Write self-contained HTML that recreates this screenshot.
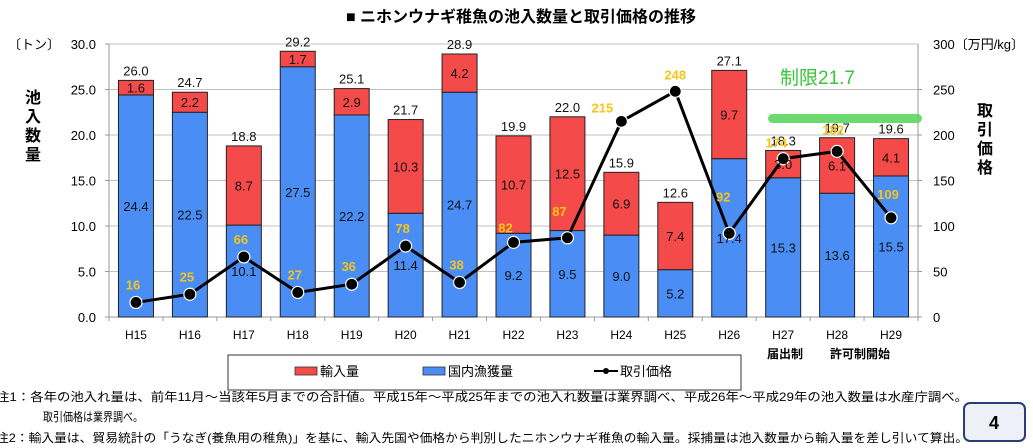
<!DOCTYPE html>
<html><head><meta charset="utf-8"><style>
body{margin:0;background:#fff;}
svg{display:block;font-family:"Liberation Sans","Noto Sans CJK JP",sans-serif;}
</style></head><body>
<svg id="chart" width="1033" height="448" viewBox="0 0 1033 448">
<text x="521" y="22" text-anchor="middle" font-size="16" font-weight="bold" fill="#000">■ ニホンウナギ稚魚の池入数量と取引価格の推移</text>
<text x="8" y="49" font-size="13">〔トン〕</text>
<text x="933" y="49" font-size="13">300〔万円/kg〕</text>
<g font-size="16" font-weight="bold"><text x="33" y="103" text-anchor="middle">池</text><text x="33" y="122" text-anchor="middle">入</text><text x="33" y="141" text-anchor="middle">数</text><text x="33" y="160" text-anchor="middle">量</text></g>
<g font-size="16" font-weight="bold"><text x="985" y="116" text-anchor="middle">取</text><text x="985" y="135" text-anchor="middle">引</text><text x="985" y="154" text-anchor="middle">価</text><text x="985" y="173" text-anchor="middle">格</text></g>
<g id="grid"></g><g id="bars"></g><g id="line"></g><g id="labels"></g>
<rect x="768" y="114" width="154" height="9" rx="4.5" fill="#5cd65c" opacity="0.9"/>
<text x="780" y="84" font-size="19" fill="#3cc43c">制限21.7</text>
<text x="785" y="358" text-anchor="middle" font-size="12" font-weight="bold">届出制</text>
<text x="860" y="358" text-anchor="middle" font-size="12" font-weight="bold">許可制開始</text>
<g>
<rect x="228" y="355" width="513" height="35" fill="#fff" stroke="#333" stroke-width="1"/>
<rect x="295" y="367" width="22" height="8" fill="#f54a4a" stroke="#333" stroke-width="0.8"/>
<text x="320" y="376" font-size="13">輸入量</text>
<rect x="423" y="367" width="22" height="8" fill="#4a8ef5" stroke="#333" stroke-width="0.8"/>
<text x="448" y="376" font-size="13">国内漁獲量</text>
<line x1="594" y1="371" x2="618" y2="371" stroke="#000" stroke-width="2"/><circle cx="606" cy="371" r="3" fill="#000"/>
<text x="620" y="376" font-size="13">取引価格</text>
</g>
<g font-size="12">
<text x="-4" y="401" textLength="972" lengthAdjust="spacingAndGlyphs">注1：各年の池入れ量は、前年11月～当該年5月までの合計値。平成15年～平成25年までの池入れ数量は業界調べ、平成26年～平成29年の池入数量は水産庁調べ。</text>
<text x="43" y="421" textLength="100" lengthAdjust="spacingAndGlyphs">取引価格は業界調べ。</text>
<text x="-4" y="442" textLength="972" lengthAdjust="spacingAndGlyphs">注2：輸入量は、貿易統計の「うなぎ(養魚用の稚魚)」を基に、輸入先国や価格から判別したニホンウナギ稚魚の輸入量。採捕量は池入数量から輸入量を差し引いて算出。</text>
</g>
<g>
<rect x="964" y="403" width="61" height="38" rx="6" fill="#eef0f8" stroke="#2a3d7a" stroke-width="2"/>
<text x="994" y="429" text-anchor="middle" font-size="18" font-weight="bold">4</text>
</g>
</svg>
<script>
const categories=["H15","H16","H17","H18","H19","H20","H21","H22","H23","H24","H25","H26","H27","H28","H29"];
const domestic=[24.4,22.5,10.1,27.5,22.2,11.4,24.7,9.2,9.5,9.0,5.2,17.4,15.3,13.6,15.5];
const imports=[1.6,2.2,8.7,1.7,2.9,10.3,4.2,10.7,12.5,6.9,7.4,9.7,3.0,6.1,4.1];
const totals=[26.0,24.7,18.8,29.2,25.1,21.7,28.9,19.9,22.0,15.9,12.6,27.1,18.3,19.7,19.6];
const prices=[16,25,66,27,36,78,38,82,87,215,248,92,174,182,109];
const leftTicks=["0.0","5.0","10.0","15.0","20.0","25.0","30.0"];
const rightTicks=["0","50","100","150","200","250"];
const NS="http://www.w3.org/2000/svg";
const X0=109,X1=918,Y0=317,Y1=44;
// label offset styling (pixels, not data)
const lblDx=[-3,-3,-3,-3,-3,-3,-3,-8,-8,-19,0,-6,-7,-4,-3];
const lblDy=[-13,-13,-13,-13,-13,-13,-13,-10,-22,-9,-12,-32,-11,-17,-19];
const NSX=null;
const band=(X1-X0)/categories.length;
const xc=i=>X0+band*(i+0.5);
const yL=v=>Y0-(v/30)*(Y0-Y1);
const yR=v=>Y0-(v/300)*(Y0-Y1);
function mk(tag,attrs,parent,text){const e=document.createElementNS(NS,tag);for(const k in attrs)e.setAttribute(k,attrs[k]);if(text!=null)e.textContent=text;document.getElementById(parent).appendChild(e);return e;}
leftTicks.forEach((t,i)=>{const v=parseFloat(t);const y=yL(v);
 const g=mk('line',{x1:X0,x2:X1,y1:y,y2:y,stroke:i==0?'#999':'#c0c0c0','stroke-width':1},'grid');
 
 const l=mk('text',{x:X0-13,y:y+5,'text-anchor':'end','font-size':13},'grid',t);
 
 mk('line',{x1:X0-4,x2:X0,y1:y,y2:y,stroke:'#999'},'grid');});
rightTicks.forEach(t=>{const v=parseFloat(t);const y=yR(v);
 const l=mk('text',{x:X1+15,y:y+5,'font-size':13},'grid',t);
 
 mk('line',{x1:X1,x2:X1+4,y1:y,y2:y,stroke:'#999'},'grid');});
mk('line',{x1:X0,x2:X0,y1:Y1,y2:Y0+4,stroke:'#999'},'grid');
mk('line',{x1:X1,x2:X1,y1:Y1,y2:Y0+4,stroke:'#999'},'grid');
categories.forEach((c,i)=>{
 mk('line',{x1:X0+band*(i+1),x2:X0+band*(i+1),y1:Y0,y2:Y0+4,stroke:'#999'},'grid');
 const t=mk('text',{x:xc(i),y:Y0+22,'text-anchor':'middle','font-size':12},'grid',c);
 
 const bw=35,bx=xc(i)-bw/2;
 const b=mk('rect',{x:bx,y:yL(domestic[i]),width:bw,height:Y0-yL(domestic[i]),fill:'#4a8ef5',stroke:'#222','stroke-width':1},'bars');
 
 const top=domestic[i]+imports[i];
 const r=mk('rect',{x:bx,y:yL(top),width:bw,height:yL(domestic[i])-yL(top),fill:'#f54a4a',stroke:'#222','stroke-width':1},'bars');
 
 const dl=mk('text',{x:xc(i),y:(yL(domestic[i])+Y0)/2+5,'text-anchor':'middle','font-size':13,fill:'#111'},'labels',domestic[i].toFixed(1));
 
 const il=mk('text',{x:xc(i),y:(yL(top)+yL(domestic[i]))/2+5,'text-anchor':'middle','font-size':13,fill:'#111'},'labels',imports[i].toFixed(1));
 
 const tl=mk('text',{x:xc(i),y:yL(top)-5,'text-anchor':'middle','font-size':13,fill:'#111'},'labels',totals[i].toFixed(1));
 
});
const pts=prices.map((p,i)=>xc(i)+','+yR(p)).join(' ');
const pl=mk('polyline',{points:pts,fill:'none',stroke:'#000','stroke-width':3},'line');

prices.forEach((p,i)=>{
 const c=mk('circle',{cx:xc(i),cy:yR(p),r:6,fill:'#000',stroke:'#fff','stroke-width':1.2},'line');
 
 const t=mk('text',{x:xc(i)+lblDx[i],y:yR(p)+lblDy[i],'text-anchor':'middle','font-size':13,'font-weight':'bold',fill:'#f5c518'},'labels',String(p));
 
});
</script>
</body></html>
